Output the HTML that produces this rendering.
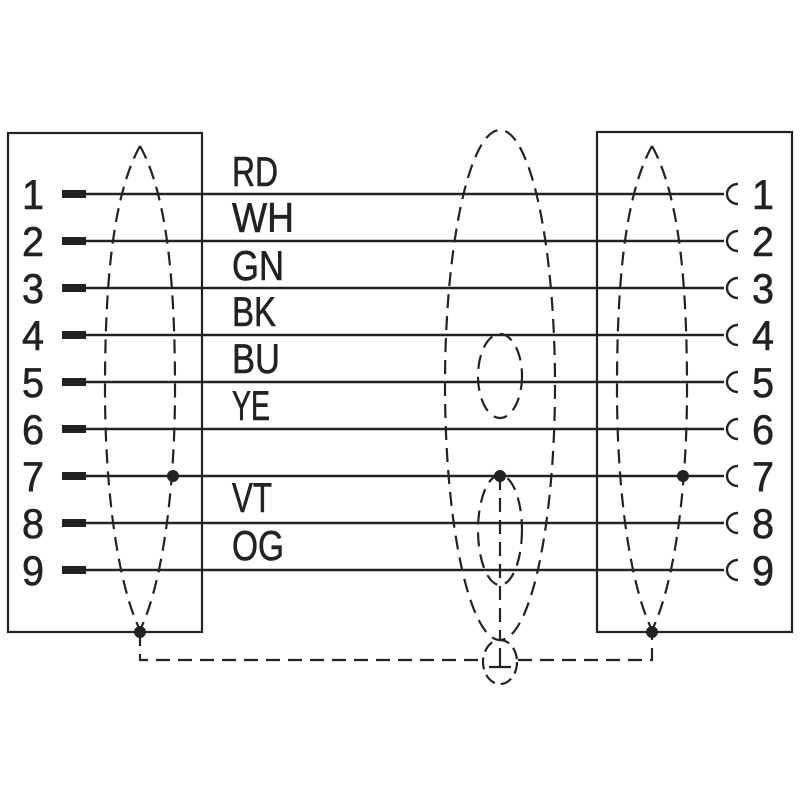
<!DOCTYPE html>
<html><head><meta charset="utf-8"><style>
html,body{margin:0;padding:0;background:#fff;}
svg{display:block;}
text{font-family:"Liberation Sans",sans-serif;fill:#222;stroke:#222;stroke-width:0.6;}
</style></head><body>
<svg width="800" height="800" viewBox="0 0 800 800" xmlns="http://www.w3.org/2000/svg">
<g stroke="#222" fill="none" stroke-width="2.2">
<rect x="8" y="133" width="194" height="499"/>
<rect x="597" y="132" width="195" height="500"/>
</g>
<g stroke="#222" stroke-width="2.4">
<line x1="85" y1="194" x2="724" y2="194"/>
<line x1="85" y1="241" x2="724" y2="241"/>
<line x1="85" y1="288" x2="724" y2="288"/>
<line x1="85" y1="335" x2="724" y2="335"/>
<line x1="85" y1="382" x2="724" y2="382"/>
<line x1="85" y1="429" x2="724" y2="429"/>
<line x1="85" y1="476" x2="724" y2="476"/>
<line x1="85" y1="523" x2="724" y2="523"/>
<line x1="85" y1="570" x2="724" y2="570"/>
</g>
<g fill="#222">
<rect x="62" y="190" width="24" height="8"/>
<rect x="62" y="237" width="24" height="8"/>
<rect x="62" y="284" width="24" height="8"/>
<rect x="62" y="331" width="24" height="8"/>
<rect x="62" y="378" width="24" height="8"/>
<rect x="62" y="425" width="24" height="8"/>
<rect x="62" y="472" width="24" height="8"/>
<rect x="62" y="519" width="24" height="8"/>
<rect x="62" y="566" width="24" height="8"/>
</g>
<g stroke="#222" stroke-width="2.4" fill="none">
<path d="M738 184 A11 10 0 0 0 738 204"/>
<path d="M738 231 A11 10 0 0 0 738 251"/>
<path d="M738 278 A11 10 0 0 0 738 298"/>
<path d="M738 325 A11 10 0 0 0 738 345"/>
<path d="M738 372 A11 10 0 0 0 738 392"/>
<path d="M738 419 A11 10 0 0 0 738 439"/>
<path d="M738 466 A11 10 0 0 0 738 486"/>
<path d="M738 513 A11 10 0 0 0 738 533"/>
<path d="M738 560 A11 10 0 0 0 738 580"/>
</g>
<g stroke="#222" stroke-width="2.2" fill="none" stroke-dasharray="14,8">
<path d="M140 146 C110 200 105 300 105 390 C105 500 120 590 140 630"/>
<path d="M140 146 C170 200 175 300 175 390 C175 500 160 590 140 630"/>
<path d="M652 146 C622 200 617 300 617 390 C617 500 632 590 652 630"/>
<path d="M652 146 C682 200 687 300 687 390 C687 500 672 590 652 630"/>
<ellipse cx="500" cy="385" rx="55" ry="255"/>
<ellipse cx="500" cy="376" rx="22" ry="42"/>
<ellipse cx="500" cy="530" rx="22" ry="55"/>
<line x1="500" y1="476" x2="500" y2="640"/>
<path d="M140 632 V660 H482 M518 660 H652 V632"/>
<ellipse cx="500" cy="662" rx="17" ry="22" stroke-dasharray="12,6"/>
</g>
<g stroke="#222" stroke-width="2.2">
<line x1="500" y1="648" x2="500" y2="667"/>
<line x1="489" y1="667" x2="511" y2="667"/>
</g>
<g fill="#222">
<circle cx="173" cy="476" r="6"/>
<circle cx="500" cy="476" r="6"/>
<circle cx="683" cy="476" r="6"/>
<circle cx="140" cy="632" r="6"/>
<circle cx="652" cy="632" r="6"/>
</g>
<g font-size="42">
<text x="22" y="209" textLength="22" lengthAdjust="spacingAndGlyphs">1</text>
<text x="22" y="256" textLength="22" lengthAdjust="spacingAndGlyphs">2</text>
<text x="22" y="303" textLength="22" lengthAdjust="spacingAndGlyphs">3</text>
<text x="22" y="350" textLength="22" lengthAdjust="spacingAndGlyphs">4</text>
<text x="22" y="397" textLength="22" lengthAdjust="spacingAndGlyphs">5</text>
<text x="22" y="444" textLength="22" lengthAdjust="spacingAndGlyphs">6</text>
<text x="22" y="491" textLength="22" lengthAdjust="spacingAndGlyphs">7</text>
<text x="22" y="538" textLength="22" lengthAdjust="spacingAndGlyphs">8</text>
<text x="22" y="585" textLength="22" lengthAdjust="spacingAndGlyphs">9</text>
<text x="752" y="209" textLength="22" lengthAdjust="spacingAndGlyphs">1</text>
<text x="752" y="256" textLength="22" lengthAdjust="spacingAndGlyphs">2</text>
<text x="752" y="303" textLength="22" lengthAdjust="spacingAndGlyphs">3</text>
<text x="752" y="350" textLength="22" lengthAdjust="spacingAndGlyphs">4</text>
<text x="752" y="397" textLength="22" lengthAdjust="spacingAndGlyphs">5</text>
<text x="752" y="444" textLength="22" lengthAdjust="spacingAndGlyphs">6</text>
<text x="752" y="491" textLength="22" lengthAdjust="spacingAndGlyphs">7</text>
<text x="752" y="538" textLength="22" lengthAdjust="spacingAndGlyphs">8</text>
<text x="752" y="585" textLength="22" lengthAdjust="spacingAndGlyphs">9</text>
</g>
<g font-size="42">
<text x="232" y="186" textLength="46" lengthAdjust="spacingAndGlyphs">RD</text>
<text x="232" y="232" textLength="62" lengthAdjust="spacingAndGlyphs">WH</text>
<text x="232" y="280" textLength="52" lengthAdjust="spacingAndGlyphs">GN</text>
<text x="232" y="326" textLength="44" lengthAdjust="spacingAndGlyphs">BK</text>
<text x="232" y="373" textLength="48" lengthAdjust="spacingAndGlyphs">BU</text>
<text x="232" y="420" textLength="38" lengthAdjust="spacingAndGlyphs">YE</text>
<text x="232" y="512" textLength="40" lengthAdjust="spacingAndGlyphs">VT</text>
<text x="232" y="560" textLength="52" lengthAdjust="spacingAndGlyphs">OG</text>
</g>
</svg>
</body></html>
